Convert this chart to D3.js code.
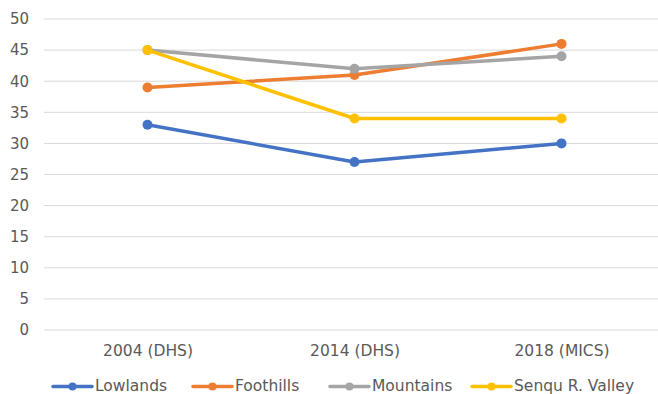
<!DOCTYPE html>
<html>
<head>
<meta charset="utf-8">
<script src="https://cdn.jsdelivr.net/npm/d3@7"></script>
<style>
  html, body { margin: 0; padding: 0; background: #fff; }
  svg { display: block; font-family: "DejaVu Sans", Verdana, sans-serif; }
</style>
</head>
<body>
<svg id="chart" width="658" height="394"></svg>
<script>
// Survey rounds along the x axis
const categories = ["2004 (DHS)", "2014 (DHS)", "2018 (MICS)"];

// One value per survey round for each ecological zone
const lowlands = [33, 27, 30];
const foothills = [39, 41, 46];
const mountains = [45, 42, 44];
const senqu = [45, 34, 34];

const seriesNames = ["Lowlands", "Foothills", "Mountains", "Senqu R. Valley"];
const seriesValues = [lowlands, foothills, mountains, senqu];
const seriesColors = ["#4472C4", "#ED7D31", "#A5A5A5", "#FFC000"];

const yTicks = [0, 5, 10, 15, 20, 25, 30, 35, 40, 45, 50];

const svg = d3.select("#chart");
const plotLeft = 44, plotRight = 665, plotTop = 19, plotBottom = 330;

const x = d3.scalePoint().domain(categories).range([plotLeft, plotRight]).padding(0.5);
const y = d3.scaleLinear().domain([0, 50]).range([plotBottom, plotTop]);

// Horizontal gridlines
svg.append("g")
  .selectAll("line")
  .data(yTicks)
  .join("line")
  .attr("x1", plotLeft).attr("x2", plotRight)
  .attr("y1", d => y(d)).attr("y2", d => y(d))
  .attr("stroke", "#D9D9D9")
  .attr("stroke-width", 1);

// Y axis labels
const yAxis = d3.axisLeft(y).tickValues(yTicks).tickSize(0).tickPadding(0);
svg.append("g")
  .attr("transform", "translate(29,0)")
  .call(yAxis)
  .call(g => g.select(".domain").remove())
  .call(g => g.selectAll("text")
    .attr("fill", "#595959")
    .style("font-size", "15px")
    .style("font-family", "DejaVu Sans, Verdana, sans-serif"));

// X axis labels
const xAxis = d3.axisBottom(x).tickSize(0).tickPadding(0);
svg.append("g")
  .attr("transform", "translate(0,345)")
  .call(xAxis)
  .call(g => g.select(".domain").remove())
  .call(g => g.selectAll("text")
    .attr("fill", "#595959")
    .attr("dy", "0.71em")
    .style("font-size", "15.5px")
    .style("font-family", "DejaVu Sans, Verdana, sans-serif"));

// Lines and markers
const line = d3.line().x((d, i) => x(categories[i])).y(d => y(d));
const seriesG = svg.append("g")
  .selectAll("g")
  .data(seriesValues)
  .join("g");

seriesG.append("path")
  .attr("d", d => line(d))
  .attr("fill", "none")
  .attr("stroke", (d, i) => seriesColors[i])
  .attr("stroke-width", 3.5)
  .attr("stroke-linejoin", "round")
  .attr("stroke-linecap", "round");

seriesG.each(function(vals, si) {
  d3.select(this).selectAll("circle")
    .data(vals)
    .join("circle")
    .attr("cx", (d, i) => x(categories[i]))
    .attr("cy", d => y(d))
    .attr("r", 5)
    .attr("fill", seriesColors[si]);
});

// Legend
const legendX = [53, 193, 330, 472];
const legendY = 386.5;
const legend = svg.append("g")
  .selectAll("g")
  .data(seriesNames)
  .join("g")
  .attr("transform", (d, i) => `translate(${legendX[i]},${legendY})`);

legend.append("line")
  .attr("x1", 0).attr("x2", 39)
  .attr("stroke", (d, i) => seriesColors[i])
  .attr("stroke-width", 3.5)
  .attr("stroke-linecap", "round");
legend.append("circle")
  .attr("cx", 19.5).attr("r", 4)
  .attr("fill", (d, i) => seriesColors[i]);
legend.append("text")
  .attr("x", 42)
  .attr("y", 4.5)
  .attr("fill", "#595959")
  .style("font-size", "15.5px")
  .text(d => d);
</script>
</body>
</html>
